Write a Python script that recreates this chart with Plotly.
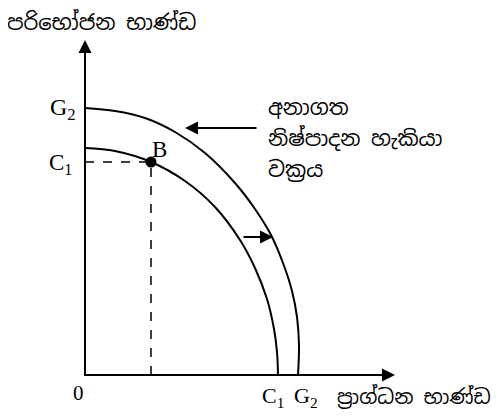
import plotly.graph_objects as go

# curves (units: pixels from the origin)
outer_x = [0, 30, 60, 90, 120, 150, 170, 186, 198, 207, 212, 214, 213]
outer_y = [267, 264, 257, 243, 222, 192, 166, 140, 112, 84, 58, 30, 0]
inner_x = [0, 30, 66, 100, 130, 155, 170, 182, 189, 192, 193]
inner_y = [227, 224, 213, 194, 168, 135, 107, 76, 46, 23, 0]
b_x, b_y = 66, 213
x_axis_end = 310
y_axis_end = 335

y_title = "පරිභෝජන භාණ්ඩ"
x_title = "ප්‍රාග්ධන භාණ්ඩ"
note_lines = ["අනාගත", "නිෂ්පාදන හැකියා", "වක්‍රය"]

serif = "Liberation Serif"
sinh = "Noto Sans Sinhala, Noto Sans, DejaVu Sans"

fig = go.Figure()
fig.add_scatter(x=outer_x, y=outer_y, mode="lines", line=dict(color="black", width=2, shape="spline"))
fig.add_scatter(x=inner_x, y=inner_y, mode="lines", line=dict(color="black", width=2, shape="spline"))
# axes
fig.add_scatter(x=[0, 0, x_axis_end - 10], y=[y_axis_end - 10, 0, 0], mode="lines",
                line=dict(color="black", width=2))
# dashed guides to B
fig.add_scatter(x=[0, b_x, b_x], y=[b_y, b_y, 0], mode="lines",
                line=dict(color="black", width=1.5, dash="dash"))
fig.add_scatter(x=[b_x], y=[b_y], mode="markers", marker=dict(color="black", size=11))

def arrow(x, y, ax, ay):
    fig.add_annotation(x=x, y=y, ax=ax, ay=ay, xref="x", yref="y", axref="x", ayref="y",
                       text="", showarrow=True, arrowhead=2, arrowsize=1.3,
                       arrowwidth=2, arrowcolor="black")

arrow(0, y_axis_end, 0, y_axis_end - 20)
arrow(x_axis_end, 0, x_axis_end - 20, 0)
arrow(100, 247, 173, 247)
arrow(188, 138, 157, 138)

def label(x, y, text, size=21, font=serif, anchor="center", xref="x"):
    fig.add_annotation(x=x, y=y, xref=xref, yref="y", text=text, showarrow=False,
                       xanchor=anchor, font=dict(family=font, size=size, color="black"))

label(-7, 266, "G<sub>2</sub>", size=24, anchor="right")
label(-11, 211, "C<sub>1</sub>", size=23, anchor="right")
label(74, 226, "B", size=23)
label(-7, -18, "0", size=21)
label(188, -22, "C<sub>1</sub>", size=22)
label(221, -22, "G<sub>2</sub>", size=22)
label(250, -22, x_title, size=20, font=sinh, anchor="left")
label(-0.006, 353, y_title, size=21, font=sinh, anchor="left", xref="paper")
for i, t in enumerate(note_lines):
    label(181, 268 - i * 31, t, size=21, font=sinh, anchor="left")

# page body has an 8px margin, so ranges are shifted to keep the origin in place
fig.update_layout(
    width=501, height=417, margin=dict(l=0, r=0, t=0, b=0),
    showlegend=False, plot_bgcolor="white", paper_bgcolor="white",
    xaxis=dict(range=[-77, 424], visible=False),
    yaxis=dict(range=[-50, 367], visible=False),
)
fig.write_html("out.html")
